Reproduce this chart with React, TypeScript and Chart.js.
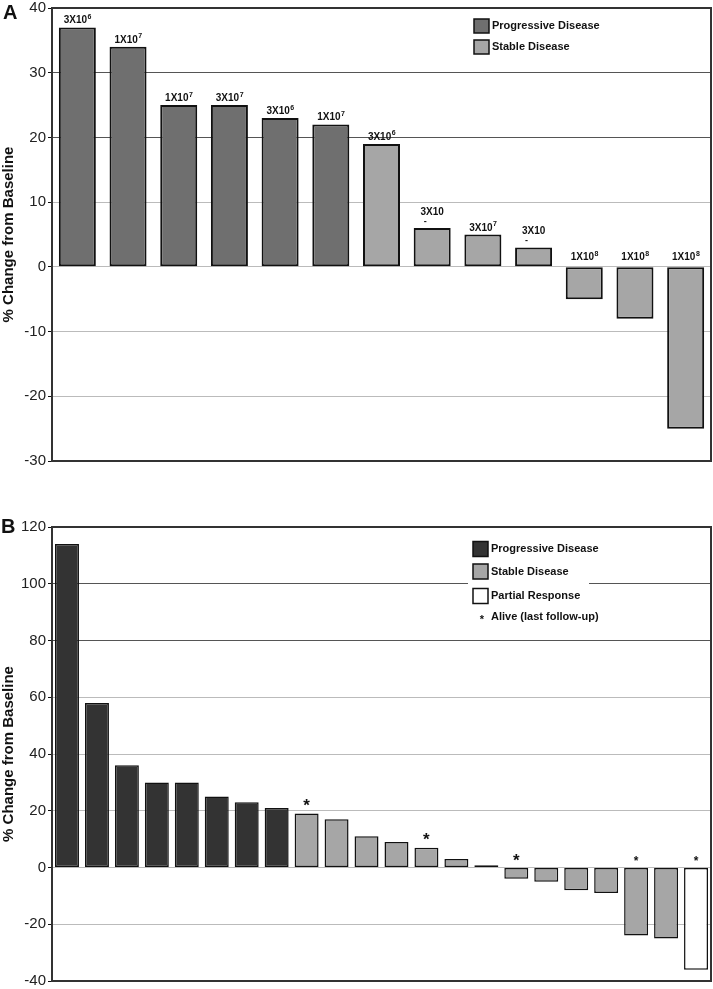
import React, { useEffect, useRef } from "react";
import { Chart, registerables } from "chart.js";

Chart.register(...registerables);

const FONT = "'Liberation Sans', Arial, Helvetica, sans-serif";

// ---------- Panel A data ----------
const aPatients = ["1", "2", "3", "4", "5", "6", "7", "8", "9", "10", "11", "12", "13"];
const aValues = [37, 34, 25, 25, 23, 22, 19, 6, 5, 3, -5, -8, -25];
const aResponse = ["PD", "PD", "PD", "PD", "PD", "PD", "SD", "SD", "SD", "SD", "SD", "SD", "SD"];
const aDoseBase = ["3X10", "1X10", "1X10", "3X10", "3X10", "1X10", "3X10", "3X10", "3X10", "3X10", "1X10", "1X10", "1X10"];
const aDoseExp = ["6", "7", "7", "7", "6", "7", "6", "", "7", "", "8", "8", "8"];
const aMin = -30;
const aMax = 40;
const aStep = 10;
const aLegendLabels = ["Progressive Disease", "Stable Disease"];
const aLegendKeys = ["PD", "SD"];

// ---------- Panel B data ----------
const bPatients = ["1", "2", "3", "4", "5", "6", "7", "8", "9", "10", "11", "12", "13", "14", "15", "16", "17", "18", "19", "20", "21", "22"];
const bValues = [114, 58, 36, 30, 30, 25, 23, 21, 19, 17, 11, 9, 7, 3, 0.8, -4, -5, -8, -9, -24, -25, -36];
const bResponse = ["PD", "PD", "PD", "PD", "PD", "PD", "PD", "PD", "SD", "SD", "SD", "SD", "SD", "SD", "PD", "SD", "SD", "SD", "SD", "SD", "SD", "PR"];
const bAlive = ["", "", "", "", "", "", "", "", "L", "", "", "", "L", "", "", "L", "", "", "", "S", "", "S"];
const bMin = -40;
const bMax = 120;
const bStep = 20;
const bLegendLabels = ["Progressive Disease", "Stable Disease", "Partial Response"];
const bLegendKeys = ["PD", "SD", "PR"];
const bAliveLabel = "Alive (last follow-up)";

const aColorMap: Record<string, string> = { PD: "#6f6f6f", SD: "#a6a6a6" };
const bColorMap: Record<string, string> = { PD: "#333333", SD: "#a6a6a6", PR: "#ffffff" };

function gridColor(dark: number[]) {
  return (c: any) => {
    const v = c.tick ? c.tick.value : null;
    if (v !== null && dark.includes(v)) return "#555555";
    return "#bbbbbb";
  };
}

function yAxis(min: number, max: number, step: number, dark: number[]) {
  return {
    min,
    max,
    ticks: {
      stepSize: step,
      color: "#222",
      padding: 2,
      font: { family: FONT, size: 15, lineHeight: 0.8 },
    },
    grid: {
      color: gridColor(dark),
      lineWidth: 1,
      tickLength: 4,
      tickColor: "#111",
      drawTicks: true,
    },
    border: { display: true, color: "#111", width: 2 },
    title: {
      display: true,
      text: "% Change from Baseline",
      color: "#111",
      padding: 0,
      font: { family: FONT, size: 15, weight: "bold" },
    },
    afterFit: (s: any) => {
      s.width = 52;
    },
  };
}

const framePlugin = {
  id: "frame",
  afterDatasetsDraw(chart: any) {
    const { ctx, chartArea } = chart;
    ctx.save();
    ctx.strokeStyle = "#333";
    ctx.lineWidth = 2;
    ctx.strokeRect(chartArea.left, chartArea.top, chartArea.right - chartArea.left, chartArea.bottom - chartArea.top);
    ctx.restore();
  },
};

function letterPlugin(letter: string, x: number, y: number) {
  return {
    id: "letter" + letter,
    afterDraw(chart: any) {
      const ctx = chart.ctx;
      ctx.save();
      ctx.fillStyle = "#111";
      ctx.font = `bold 20px ${FONT}`;
      ctx.textAlign = "left";
      ctx.textBaseline = "alphabetic";
      ctx.fillText(letter, x, y);
      ctx.restore();
    },
  };
}

function legendPlugin(
  labels: string[],
  keys: string[],
  colorMap: Record<string, string>,
  x: number,
  ys: number[],
  size: number,
  extra: null | { y: number; text: string },
  bg: null | { x: number; y: number; w: number; h: number }
) {
  return {
    id: "customLegend",
    afterDatasetsDraw(chart: any) {
      const ctx = chart.ctx;
      ctx.save();
      if (bg) {
        ctx.fillStyle = "#ffffff";
        ctx.fillRect(bg.x, bg.y, bg.w, bg.h);
      }
      ctx.font = `bold 11px ${FONT}`;
      ctx.textBaseline = "middle";
      ctx.textAlign = "left";
      labels.forEach((lab, i) => {
        const y = ys[i];
        ctx.fillStyle = colorMap[keys[i]];
        ctx.fillRect(x, y - size / 2, 15, size);
        ctx.strokeStyle = "#111";
        ctx.lineWidth = 1.5;
        ctx.strokeRect(x, y - size / 2, 15, size);
        ctx.fillStyle = "#111";
        ctx.fillText(lab, x + 18, y);
      });
      if (extra) {
        ctx.font = `bold 11px ${FONT}`;
        ctx.textAlign = "center";
        ctx.fillText("*", x + 9, extra.y + 3);
        ctx.textAlign = "left";
        ctx.fillText(extra.text, x + 18, extra.y);
      }
      ctx.restore();
    },
  };
}

const doseLabelPlugin = {
  id: "doseLabels",
  afterDatasetsDraw(chart: any) {
    const ctx = chart.ctx;
    const meta = chart.getDatasetMeta(0);
    ctx.save();
    ctx.fillStyle = "#111";
    ctx.textBaseline = "alphabetic";
    meta.data.forEach((bar: any, i: number) => {
      const p = bar.getProps(["x", "y", "base"], true);
      const top = Math.min(p.y, p.base);
      const base = aDoseBase[i];
      const exp = aDoseExp[i];
      const neg = aValues[i] < 0;
      if (exp) {
        ctx.font = `bold 10px ${FONT}`;
        const wB = ctx.measureText(base).width;
        ctx.font = `bold 7px ${FONT}`;
        const wE = ctx.measureText(exp).width;
        const start = p.x - (wB + wE) / 2;
        const by = top - (neg ? 7 : 4);
        ctx.textAlign = "left";
        ctx.font = `bold 10px ${FONT}`;
        ctx.fillText(base, start, by);
        ctx.font = `bold 7px ${FONT}`;
        ctx.fillText(exp, start + wB + 0.5, by - 4.5);
      } else {
        ctx.textAlign = "center";
        ctx.font = `bold 10px ${FONT}`;
        ctx.fillText(base, p.x, top - 13);
        ctx.font = `bold 9px ${FONT}`;
        ctx.fillText("-", p.x - 7, top - 4);
      }
    });
    ctx.restore();
  },
};

const alivePlugin = {
  id: "alive",
  afterDatasetsDraw(chart: any) {
    const ctx = chart.ctx;
    const meta = chart.getDatasetMeta(0);
    ctx.save();
    ctx.fillStyle = "#111";
    ctx.textAlign = "center";
    ctx.textBaseline = "middle";
    meta.data.forEach((bar: any, i: number) => {
      const mark = bAlive[i];
      if (!mark) return;
      const p = bar.getProps(["x", "y", "base"], true);
      const top = Math.min(p.y, p.base);
      if (mark === "L") {
        ctx.font = `bold 17px ${FONT}`;
        ctx.fillText("*", p.x, top - 7);
      } else {
        ctx.font = `bold 12px ${FONT}`;
        ctx.fillText("*", p.x, top - 6);
      }
    });
    ctx.restore();
  },
};

function baseOptions(yScale: any, padding: any) {
  return {
    responsive: true,
    maintainAspectRatio: false,
    animation: false as const,
    layout: { padding },
    plugins: { legend: { display: false }, tooltip: { enabled: false } },
    scales: {
      x: { display: false, grid: { display: false } },
      y: yScale,
    },
  };
}

export default function App() {
  const refA = useRef<HTMLCanvasElement>(null);
  const refB = useRef<HTMLCanvasElement>(null);

  useEffect(() => {
    document.body.style.margin = "0";
    const chartA = new Chart(refA.current as HTMLCanvasElement, {
      type: "bar",
      data: {
        labels: aPatients,
        datasets: [
          {
            data: aValues,
            backgroundColor: aResponse.map((r) => aColorMap[r]),
            borderColor: "#111",
            borderWidth: 2,
            borderSkipped: false,
            categoryPercentage: 1,
            barPercentage: 0.73,
          },
        ],
      },
      options: baseOptions(yAxis(aMin, aMax, aStep, [30, 20]), { top: 6, bottom: 9, left: 0, right: 2 }) as any,
      plugins: [
        framePlugin,
        legendPlugin(aLegendLabels, aLegendKeys, aColorMap, 474, [26, 47], 14, null, null),
        doseLabelPlugin,
        letterPlugin("A", 3, 19),
      ],
    });

    const chartB = new Chart(refB.current as HTMLCanvasElement, {
      type: "bar",
      data: {
        labels: bPatients,
        datasets: [
          {
            data: bValues,
            backgroundColor: bResponse.map((r) => bColorMap[r]),
            borderColor: "#111",
            borderWidth: 1.5,
            borderSkipped: false,
            categoryPercentage: 1,
            barPercentage: 0.8,
          },
        ],
      },
      options: baseOptions(yAxis(bMin, bMax, bStep, [100, 80]), { top: 57, bottom: 6, left: 0, right: 2 }) as any,
      plugins: [
        framePlugin,
        legendPlugin(bLegendLabels, bLegendKeys, bColorMap, 473, [79, 101.5, 126], 15, { y: 147, text: bAliveLabel }, { x: 468, y: 68, w: 121, h: 88 }),
        alivePlugin,
        letterPlugin("B", 1, 63),
      ],
    });

    return () => {
      chartA.destroy();
      chartB.destroy();
    };
  }, []);

  return (
    <div style={{ position: "relative", width: 713, height: 989, background: "#fff", overflow: "hidden" }}>
      <div style={{ position: "absolute", left: 0, top: 0, width: 713, height: 470 }}>
        <canvas ref={refA} />
      </div>
      <div style={{ position: "absolute", left: 0, top: 470, width: 713, height: 519 }}>
        <canvas ref={refB} />
      </div>
    </div>
  );
}
